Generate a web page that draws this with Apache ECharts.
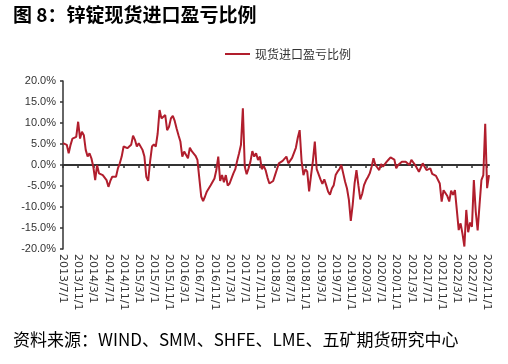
<!DOCTYPE html>
<html>
<head>
<meta charset="utf-8">
<script src="https://cdn.jsdelivr.net/npm/echarts@6/dist/echarts.min.js"></script>
<style>
html,body{margin:0;padding:0;background:#fff;}
#chart{width:508px;height:364px;}
</style>
</head>
<body>
<div id="chart"></div>
<script>
// Semi-monthly categories (1st and 16th) from 2013/7/1 to 2022/11/16
var startYear = 2013, startMonth = 7, nCats = 226;
var categories = [];
for (var k = 0; k < nCats; k++) {
  var m = Math.floor(k / 2);
  var y = startYear + Math.floor((startMonth - 1 + m) / 12);
  var mo = ((startMonth - 1 + m) % 12) + 1;
  categories.push(y + '/' + mo + '/' + (k % 2 === 0 ? 1 : 16));
}

var seriesName = '现货进口盈亏比例';
// values (%)
var profitRatio = [
  5.2, 5.6, 4.8, 2.8, 4.8, 6.3, 6.5, 6.7, 10.3, 6.3,
  7.9, 7.1, 3.6, 2.0, 2.8, 1.6, -0.4, -3.6, 0.0, -2.0,
  -1.6, -2.4, -3.0, -3.6, -5.2, -3.8, -2.8, -2.4, -2.8, -0.8,
  0.4, 2.0, 4.4, 4.8, 4.0, 3.6, 4.8, 7.0, 6.0, 4.4,
  5.2, 4.8, 3.6, 2.0, -2.8, -3.8, 0.8, 4.4, 4.9, 4.4,
  7.5, 13.1, 11.1, 11.5, 11.9, 8.3, 9.1, 11.1, 11.7, 10.5,
  8.7, 7.1, 5.6, 2.0, 3.2, 3.2, 1.6, 4.1, 3.3, 3.2,
  2.2, 1.2, -3.2, -7.5, -8.6, -7.5, -6.3, -6.0, -4.8, -4.9,
  -3.2, -1.2, 2.0, -3.8, -2.4, -4.1, -2.4, -4.9, -4.4, -3.2,
  -2.0, -1.0, 1.0, 2.8, 4.8, 13.5, -0.4, -2.2, -0.8, 0.8,
  3.3, 2.0, 2.8, 1.2, 2.0, -1.0, -0.2, -1.2, -3.0, -4.4,
  -4.8, -3.8, -2.4, -1.0, 0.4, 0.0, 1.0, 1.1, 2.0, 0.4,
  0.4, 1.7, 1.6, 4.1, 6.5, 8.3, 1.0, -2.4, -1.0, -1.6,
  -6.3, -2.5, 1.0, 5.6, -1.0, -1.2, -3.4, -4.5, -3.4, -4.8,
  -6.3, -7.1, -5.6, -4.8, -2.4, -1.6, -1.0, 0.0, -2.0, -4.0,
  -5.6, -8.3, -13.3, -9.5, -4.4, -1.2, -4.8, -8.2, -6.9, -4.8,
  -3.7, -2.9, -2.0, -0.4, 1.6, 0.0, -0.6, -1.2, 0.2, -0.4,
  -0.8, 0.8, 1.3, 1.8, 2.0, 1.3, -0.8, 0.0, 0.0, 0.8,
  0.4, 0.8, 0.4, 0.0, 1.2, 1.6, 0.0, -0.4, -1.6, -1.2,
  0.4, -0.4, -1.2, -1.6, -0.8, -2.1, -2.0, -2.6, -3.0, -4.4,
  -8.7, -6.0, -5.6, -7.4, -8.7, -6.1, -7.1, -6.0, -10.7, -15.5,
  -13.9, -16.4, -19.4, -10.7, -16.0, -13.7, -14.7, -3.6, -11.1, -15.6,
  -9.5, -3.6, -2.4, 9.8, -5.5, -2.4
];

var titleText = '图 8：锌锭现货进口盈亏比例';
var sourceText = '资料来源：WIND、SMM、SHFE、LME、五矿期货研究中心';
var yMin = -20, yMax = 20, yStep = 5;

var lineColor = '#B11E2D';
var axisFont = '"Liberation Sans", Arial, sans-serif';
var xLabelFont = '"DejaVu Sans", sans-serif';
var cjkFont = '"Noto Sans CJK SC", sans-serif';

var chart = echarts.init(document.getElementById('chart'), null, {renderer: 'canvas'});
chart.setOption({
  animation: false,
  backgroundColor: '#fff',
  title: [
    {text: titleText, left: 13, top: 5, padding: 0,
     textStyle: {fontFamily: cjkFont, fontSize: 19, fontWeight: 'bold', color: '#000'}},
    {text: sourceText, left: 13, top: 331, padding: 0,
     textStyle: {fontFamily: cjkFont, fontSize: 17, fontWeight: 'normal', color: '#000'}}
  ],
  legend: {
    data: [seriesName],
    left: 225, top: 48, padding: 0,
    icon: 'path://M0,0 L25,0 L25,2 L0,2 Z',
    itemWidth: 25, itemHeight: 2, itemGap: 10,
    textStyle: {fontFamily: cjkFont, fontSize: 12, color: '#333'}
  },
  grid: {left: 63, right: 19, top: 81, bottom: 115, containLabel: false},
  xAxis: [
    {
      type: 'category', data: categories, boundaryGap: false, position: 'bottom',
      axisLine: {onZero: true, lineStyle: {color: '#333', width: 2}},
      axisTick: {show: true, interval: 7, length: 3, inside: false, lineStyle: {color: '#333', width: 1.5}},
      axisLabel: {show: false},
      splitLine: {show: false}
    },
    {
      type: 'category', data: categories, boundaryGap: false, position: 'bottom',
      axisLine: {show: false, onZero: false},
      axisTick: {show: false},
      axisLabel: {show: true, interval: 7, rotate: -90, margin: 5,
                  fontFamily: xLabelFont, fontSize: 11, color: '#333'},
      splitLine: {show: false}
    }
  ],
  yAxis: {
    type: 'value', min: yMin, max: yMax, interval: yStep,
    axisLine: {show: true, lineStyle: {color: '#333', width: 1.5}},
    axisTick: {show: true, length: 3, lineStyle: {color: '#333', width: 1.5}},
    axisLabel: {fontFamily: axisFont, fontSize: 11, color: '#333', margin: 7,
                formatter: function (v) { return v.toFixed(1) + '%'; }},
    splitLine: {show: false}
  },
  series: [{
    name: seriesName, type: 'line', data: profitRatio, xAxisIndex: 0,
    showSymbol: false, symbol: 'none',
    lineStyle: {color: lineColor, width: 2},
    itemStyle: {color: lineColor}
  }]
});
</script>
</body>
</html>
